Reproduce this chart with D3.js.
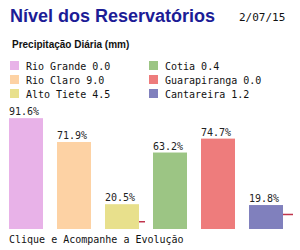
<!DOCTYPE html>
<html>
<head>
<meta charset="utf-8">
<script src="https://cdn.jsdelivr.net/npm/d3@7"></script>
<style>
  body { margin: 0; background: #fff; }
  svg { display: block; }
</style>
</head>
<body>
<div id="chart"></div>
<script>
// data
var reservatorios = ["Rio Grande", "Rio Claro", "Alto Tiete", "Cotia", "Guarapiranga", "Cantareira"];
var nivel = [91.6, 71.9, 20.5, 63.2, 74.7, 19.8];
var chuva = [0.0, 9.0, 4.5, 0.4, 0.0, 1.2];
var marca = [null, null, 6, null, null, 12];
var cores = ["#e8b2e8", "#fdd2a4", "#e8e08c", "#9cc584", "#ee7c7c", "#8080bd"];
var dataStr = "2/07/15";

var width = 300, height = 250;
var mono = "'DejaVu Sans Mono', monospace";

var svg = d3.select("#chart").append("svg")
    .attr("width", width)
    .attr("height", height);

// titulo
svg.append("text")
    .attr("x", 10).attr("y", 22)
    .style("font-family", "'Liberation Sans', Arial, sans-serif")
    .style("font-weight", "bold")
    .style("font-size", "18px")
    .style("fill", "#1c1c96")
    .text("Nível dos Reservatórios");

svg.append("text")
    .attr("x", 239).attr("y", 21)
    .style("font-family", mono)
    .style("font-size", "11px")
    .style("fill", "#111")
    .text(dataStr);

svg.append("text")
    .attr("x", 12).attr("y", 48)
    .style("font-family", "'Liberation Sans', Arial, sans-serif")
    .style("font-weight", "bold")
    .style("font-size", "10px")
    .style("fill", "#111")
    .text("Precipitação Diária (mm)");

// legenda
var leg = svg.selectAll(".leg")
    .data(reservatorios)
    .enter().append("g")
    .attr("class", "leg")
    .attr("transform", function (d, i) {
        return "translate(" + (i < 3 ? 10 : 149) + "," + (61 + (i % 3) * 14) + ")";
    });

leg.append("rect")
    .attr("width", 9).attr("height", 9)
    .attr("fill", function (d, i) { return cores[i]; });

leg.append("text")
    .attr("x", 16).attr("y", 9)
    .style("font-family", mono)
    .style("font-size", "10px")
    .style("fill", "#111")
    .text(function (d, i) { return d + " " + chuva[i].toFixed(1); });

// barras
var x = d3.scaleBand()
    .domain(reservatorios)
    .range([9, 283])
    .paddingInner(14 / 48)
    .paddingOuter(0);

var y = d3.scaleLinear()
    .domain([0, 100])
    .range([229, 108]);

svg.selectAll(".bar")
    .data(reservatorios)
    .enter().append("rect")
    .attr("class", "bar")
    .attr("x", function (d) { return x(d); })
    .attr("y", function (d, i) { return y(nivel[i]); })
    .attr("width", x.bandwidth())
    .attr("height", function (d, i) { return y(0) - y(nivel[i]); })
    .attr("fill", function (d, i) { return cores[i]; });

svg.selectAll(".pct")
    .data(reservatorios)
    .enter().append("text")
    .attr("class", "pct")
    .attr("x", function (d) { return x(d); })
    .attr("y", function (d, i) { return y(nivel[i]) - 3; })
    .style("font-family", mono)
    .style("font-size", "10px")
    .style("fill", "#222")
    .text(function (d, i) { return nivel[i].toFixed(1) + "%"; });

// marcas vermelhas
var marcaLen = [0, 0, 6, 0, 0, 10];
svg.selectAll(".marca")
    .data(reservatorios.filter(function (d, i) { return marca[i] != null; }))
    .enter().append("line")
    .attr("class", "marca")
    .attr("x1", function (d) { return x(d) + x.bandwidth(); })
    .attr("x2", function (d) { return x(d) + x.bandwidth() + marcaLen[reservatorios.indexOf(d)]; })
    .attr("y1", function (d) { return y(marca[reservatorios.indexOf(d)]); })
    .attr("y2", function (d) { return y(marca[reservatorios.indexOf(d)]); })
    .attr("stroke", "#c0344c")
    .attr("stroke-width", 1.5);

svg.append("text")
    .attr("x", 9).attr("y", 243)
    .style("font-family", mono)
    .style("font-size", "10px")
    .style("fill", "#111")
    .text("Clique e Acompanhe a Evolução");
</script>
</body>
</html>
